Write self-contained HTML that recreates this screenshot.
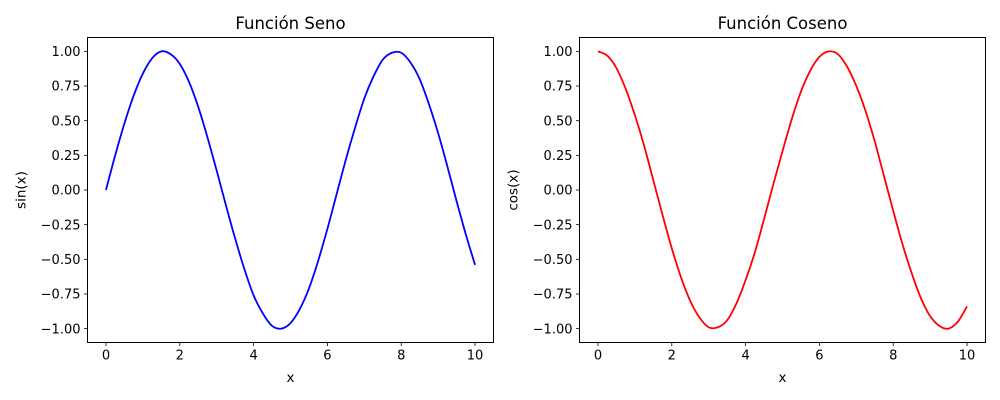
<!DOCTYPE html>
<html><head><meta charset="utf-8">
<style>
html,body{margin:0;padding:0;background:#fff;}
svg{display:block;font-family:"DejaVu Sans","Liberation Sans",sans-serif;}
</style></head>
<body>
<svg id="fig" width="1000" height="400" viewBox="0 0 1000 400"></svg>
<script>
const xValues = [0,0.25,0.5,0.75,1,1.25,1.5,1.75,2,2.25,2.5,2.75,3,3.25,3.5,3.75,4,4.25,4.5,4.75,5,5.25,5.5,5.75,6,6.25,6.5,6.75,7,7.25,7.5,7.75,8,8.25,8.5,8.75,9,9.25,9.5,9.75,10];
const sinValues = [0,0.25,0.48,0.68,0.84,0.95,1.00,0.98,0.91,0.78,0.60,0.38,0.14,-0.11,-0.35,-0.57,-0.76,-0.89,-0.98,-1.00,-0.96,-0.86,-0.71,-0.51,-0.28,-0.03,0.22,0.45,0.66,0.82,0.94,0.99,0.99,0.92,0.80,0.62,0.41,0.17,-0.08,-0.32,-0.54];
const cosValues = [1.00,0.97,0.88,0.73,0.54,0.32,0.07,-0.18,-0.42,-0.63,-0.80,-0.92,-0.99,-0.99,-0.94,-0.82,-0.65,-0.45,-0.21,0.04,0.28,0.51,0.71,0.86,0.96,1.00,0.98,0.89,0.75,0.57,0.35,0.10,-0.15,-0.39,-0.60,-0.78,-0.91,-0.98,-1.00,-0.95,-0.84];
const xTicks = [0,2,4,6,8,10];
const yTicks = [-1,-0.75,-0.5,-0.25,0,0.25,0.5,0.75,1];

const NS = "http://www.w3.org/2000/svg";
const fig = document.getElementById('fig');
function mk(tag, attrs, parent, text){
  const e = document.createElementNS(NS, tag);
  for (const k in attrs) e.setAttribute(k, attrs[k]);
  if (text !== undefined) e.textContent = text;
  parent.appendChild(e);
  return e;
}

function panel(left, title, ylabel, ys, color, key){
  const L = left, R = left + 406, T = 37.5, B = 342.5;
  const xMin = -0.5, xMax = 10.5, yMin = -1.1, yMax = 1.1;
  const sx = v => L + (v - xMin) / (xMax - xMin) * (R - L);
  const sy = v => B - (v - yMin) / (yMax - yMin) * (B - T);
  const g = mk('g', {}, fig);
  
  

  // curve (Catmull-Rom)
  const pts = xValues.map((x, i) => [sx(x), sy(ys[i])]);
  let d = 'M' + pts[0][0] + ',' + pts[0][1];
  for (let i = 0; i < pts.length - 1; i++){
    const p0 = pts[Math.max(0, i-1)], p1 = pts[i], p2 = pts[i+1], p3 = pts[Math.min(pts.length-1, i+2)];
    const c1 = [p1[0] + (p2[0]-p0[0])/6, p1[1] + (p2[1]-p0[1])/6];
    const c2 = [p2[0] - (p3[0]-p1[0])/6, p2[1] - (p3[1]-p1[1])/6];
    d += ' C' + c1[0] + ',' + c1[1] + ' ' + c2[0] + ',' + c2[1] + ' ' + p2[0] + ',' + p2[1];
  }
  const line = mk('path', {d: d, fill: 'none', stroke: color, 'stroke-width': 1.8, 'stroke-linejoin': 'round'}, g);
  
  

  const frame = mk('rect', {x: L, y: T, width: R - L, height: B - T, fill: 'none', stroke: '#000', 'stroke-width': 1}, g);
  
  

  xTicks.forEach(t => {
    const x = sx(t);
    mk('line', {x1: x, x2: x, y1: B, y2: B + 3.5, stroke: '#000', 'stroke-width': 0.8}, g);
    const lb = mk('text', {x: x, y: B + 17, 'font-size': 13, 'text-anchor': 'middle', fill: '#000'}, g, String(t));
    
    
  });
  yTicks.forEach(t => {
    const y = sy(t);
    mk('line', {x1: L - 3.5, x2: L, y1: y, y2: y, stroke: '#000', 'stroke-width': 0.8}, g);
    const s = (t < 0 ? '\u2212' : '') + Math.abs(t).toFixed(2);
    const lb = mk('text', {x: L - 7, y: y + 4.7, 'font-size': 13, 'text-anchor': 'end', fill: '#000'}, g, s);
    
    
  });
  const ti = mk('text', {x: (L + R) / 2, y: 29, 'font-size': 16.5, 'text-anchor': 'middle', fill: '#000'}, g, title);
  
  
  const xl = mk('text', {x: (L + R) / 2, y: 382, 'font-size': 13.5, 'text-anchor': 'middle', fill: '#000'}, g, 'x');
  
  
  const yl = mk('text', {x: 0, y: 0, 'font-size': 13.5, 'text-anchor': 'middle', fill: '#000',
    transform: 'translate(' + (L - 62) + ',' + ((T + B) / 2) + ') rotate(-90)'}, g, ylabel);
  
  
}

panel(87.5, 'Función Seno', 'sin(x)', sinValues, '#0000ff', 'sine');
panel(579.5, 'Función Coseno', 'cos(x)', cosValues, '#ff0000', 'cosine');
</script>
</body></html>
